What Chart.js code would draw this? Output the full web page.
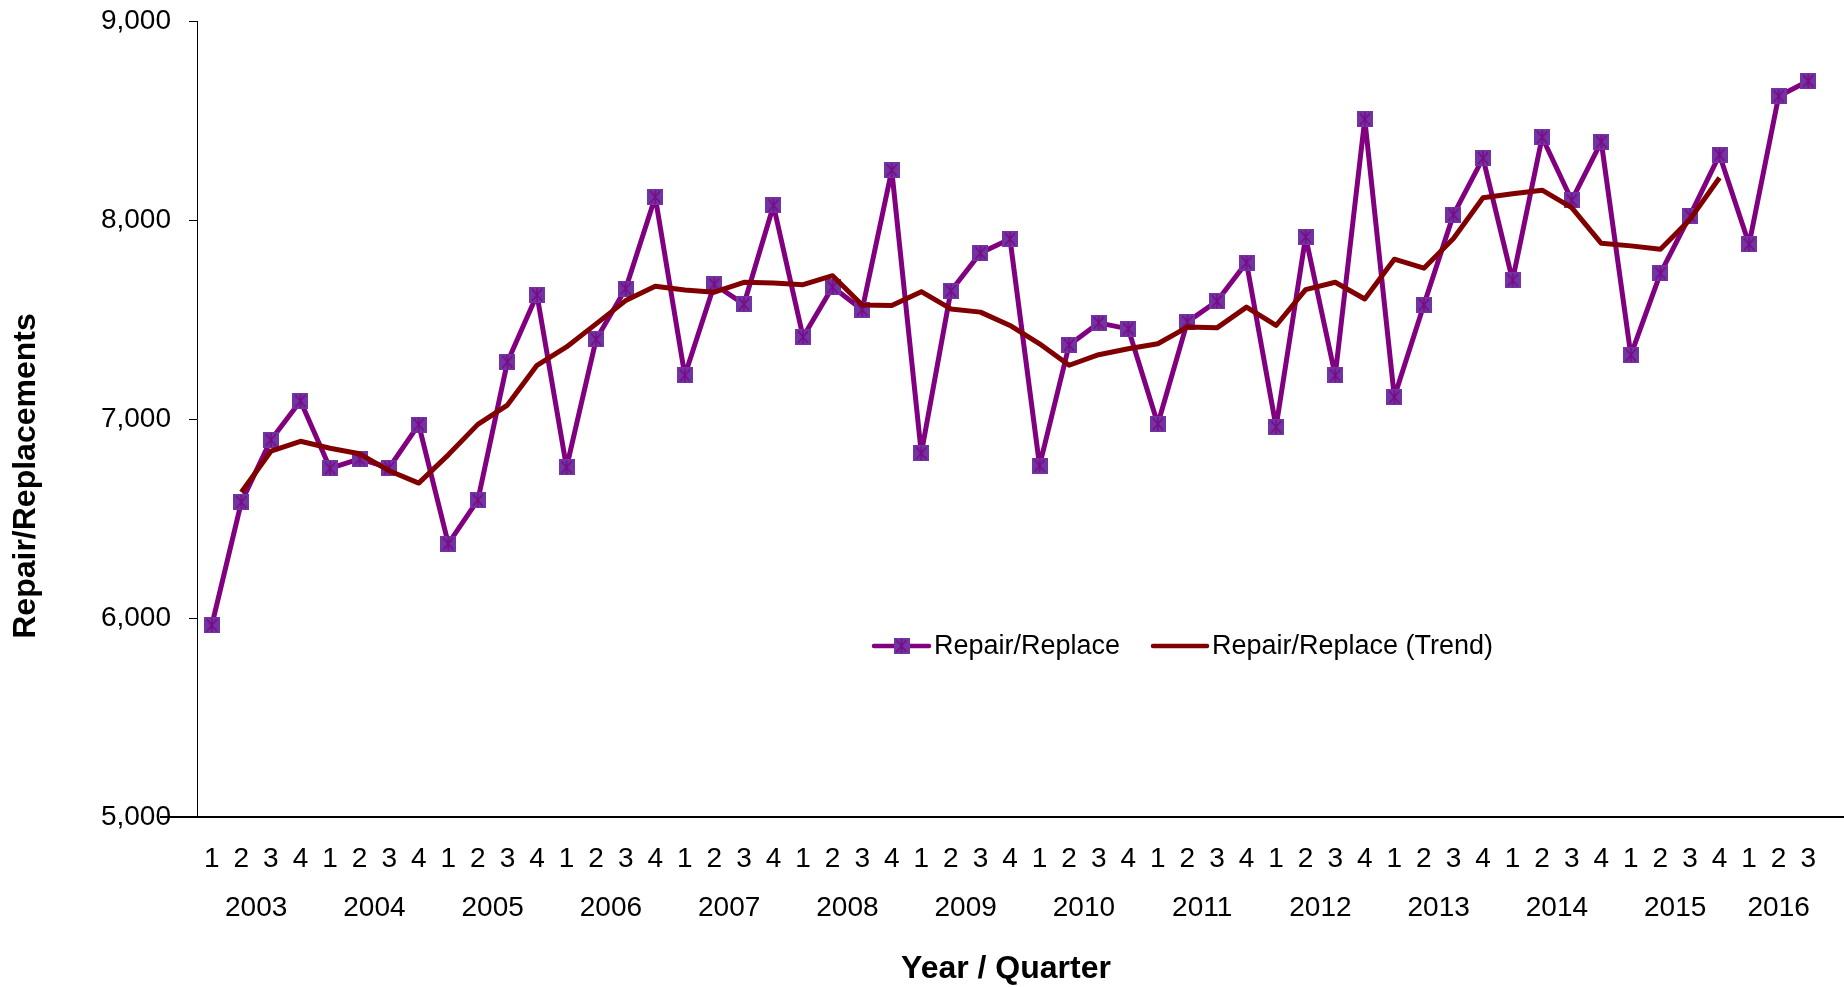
<!DOCTYPE html>
<html>
<head>
<meta charset="utf-8">
<script src="https://cdn.jsdelivr.net/npm/chart.js@4.4.1/dist/chart.umd.min.js"></script>
<style>
  html, body { margin: 0; padding: 0; background: #fff; }
  #wrap { width: 1844px; height: 987px; position: relative; }
</style>
</head>
<body>
<div id="wrap"><canvas id="chart"></canvas></div>
<script>
const years = ["2003", "2004", "2005", "2006", "2007", "2008", "2009", "2010", "2011", "2012", "2013", "2014", "2015", "2016"];
const quarterLabels = [
  "1", "2", "3", "4", "1", "2", "3", "4", "1", "2", "3", "4", "1", "2", "3", "4",
  "1", "2", "3", "4", "1", "2", "3", "4", "1", "2", "3", "4", "1", "2", "3", "4",
  "1", "2", "3", "4", "1", "2", "3", "4", "1", "2", "3", "4", "1", "2", "3", "4",
  "1", "2", "3", "4", "1", "2", "3"
];
const repairReplace = [
  5963, 6582, 6895, 7090,
  6752, 6800, 6755, 6972,
  6374, 6592, 7287, 7624,
  6757, 7400, 7655, 8116,
  7219, 7676, 7577, 8073,
  7412, 7663, 7549, 8250,
  6828, 7643, 7834, 7905,
  6766, 7372, 7483, 7453,
  6975, 7488, 7592, 7786,
  6960, 7915, 7219, 8506,
  7110, 7574, 8027, 8311,
  7697, 8416, 8099, 8393,
  7321, 7732, 8022, 8327,
  7878, 8622, 8698
];
const repairReplaceTrend = [
  null, 6632, 6838, 6888,
  6853, 6825, 6740, 6678,
  6820, 6973, 7070, 7270,
  7362, 7478, 7595, 7667,
  7648, 7637, 7687, 7683,
  7675, 7720, 7573, 7570,
  7640, 7553, 7537, 7470,
  7378, 7270, 7323, 7353,
  7378, 7462, 7458, 7562,
  7470, 7650, 7687, 7603,
  7803, 7758, 7907, 8112,
  8132, 8150, 8062, 7883,
  7870, 7853, 8003, 8212,
  null, null, null
];
const seriesNames = ["Repair/Replace", "Repair/Replace (Trend)"];
const xTitle = "Year / Quarter";
const yTitle = "Repair/Replacements";

const FONT = "Arial, 'Liberation Sans', sans-serif";

function makeMarker() {
  const c = document.createElement("canvas");
  c.width = 16;
  c.height = 16;
  const g = c.getContext("2d");
  g.fillStyle = "#7233a3";
  g.fillRect(0, 0, 16, 16);
  g.strokeStyle = "#7a0a84";
  g.lineWidth = 1.4;
  g.beginPath();
  g.moveTo(3, 2); g.lineTo(13, 14);
  g.moveTo(13, 2); g.lineTo(3, 14);
  g.moveTo(8, 1); g.lineTo(8, 15);
  g.stroke();
  return c;
}
const marker = makeMarker();

// year labels centred under their quarters
const yearLabelsPlugin = {
  id: "yearLabels",
  afterDraw(chart) {
    const x = chart.scales.x;
    const ctx = chart.ctx;
    ctx.save();
    ctx.font = "28px " + FONT;
    ctx.fillStyle = "#000";
    ctx.textAlign = "center";
    ctx.textBaseline = "middle";
    years.forEach((yr, k) => {
      const first = k * 4;
      const last = Math.min(first + 3, quarterLabels.length - 1);
      const cx = (x.getPixelForValue(first) + x.getPixelForValue(last)) / 2;
      ctx.fillText(yr, cx, x.top + 91);
    });
    ctx.restore();
  }
};

// axis line extensions and axis titles
const axisDecorPlugin = {
  id: "axisDecor",
  afterDraw(chart) {
    const ctx = chart.ctx;
    const area = chart.chartArea;
    ctx.save();
    ctx.strokeStyle = "#000";
    ctx.lineWidth = 2;
    ctx.beginPath();
    ctx.moveTo(160, area.bottom);
    ctx.lineTo(chart.width, area.bottom);
    ctx.stroke();

    ctx.fillStyle = "#000";
    ctx.font = "bold 32px " + FONT;
    ctx.textAlign = "center";
    ctx.textBaseline = "middle";
    ctx.fillText(xTitle, 1006, 969);
    ctx.translate(26, 476);
    ctx.rotate(-Math.PI / 2);
    ctx.fillText(yTitle, 0, 0);
    ctx.restore();
  }
};

// legend drawn inside the plot
const legendPlugin = {
  id: "innerLegend",
  afterDraw(chart) {
    const ctx = chart.ctx;
    const ds = chart.data.datasets;
    const y = 646;
    const items = [{x0: 874, x1: 929, tx: 934}, {x0: 1153, x1: 1207, tx: 1212}];
    ctx.save();
    ctx.font = "27px " + FONT;
    ctx.textAlign = "left";
    ctx.textBaseline = "middle";
    items.forEach((it, i) => {
      ctx.strokeStyle = ds[i].borderColor;
      ctx.lineWidth = 4.5;
      ctx.lineCap = "round";
      ctx.beginPath();
      ctx.moveTo(it.x0, y);
      ctx.lineTo(it.x1, y);
      ctx.stroke();
      if (i === 0) {
        ctx.drawImage(marker, (it.x0 + it.x1) / 2 - 8, y - 8);
      }
      ctx.fillStyle = "#000";
      ctx.fillText(ds[i].label, it.tx, y + 1);
    });
    ctx.restore();
  }
};

const ctx = document.getElementById("chart").getContext("2d");
new Chart(ctx, {
  type: "line",
  data: {
    labels: quarterLabels,
    datasets: [
      {
        label: seriesNames[0],
        data: repairReplace,
        borderColor: "#800080",
        backgroundColor: "#7233a3",
        borderWidth: 5,
        borderJoinStyle: "round",
        pointStyle: marker,
        pointRadius: 8,
        pointHoverRadius: 8,
        tension: 0,
        order: 2
      },
      {
        label: seriesNames[1],
        data: repairReplaceTrend,
        borderColor: "#800000",
        backgroundColor: "#800000",
        borderWidth: 5,
        borderJoinStyle: "round",
        pointRadius: 0,
        pointHoverRadius: 0,
        tension: 0,
        order: 1
      }
    ]
  },
  options: {
    responsive: true,
    maintainAspectRatio: false,
    animation: false,
    events: [],
    layout: {padding: {top: 21, right: 21, left: 0, bottom: 0}},
    plugins: {
      legend: {display: false},
      tooltip: {enabled: false}
    },
    scales: {
      x: {
        type: "category",
        offset: true,
        grid: {display: false, drawTicks: false},
        border: {display: true, color: "#000", width: 2},
        ticks: {
          color: "#000",
          font: {size: 28, family: FONT},
          padding: 25,
          maxRotation: 0,
          autoSkip: false
        },
        afterFit(s) {
          s.height = 170;
          s.paddingLeft = 0;
          s.paddingRight = 0;
        }
      },
      y: {
        min: 5000,
        max: 9000,
        grid: {drawOnChartArea: false, drawTicks: true, tickLength: 8, color: "#000"},
        border: {display: true, color: "#000", width: 1},
        ticks: {
          stepSize: 1000,
          color: "#000",
          font: {size: 28, family: FONT},
          padding: 18,
          callback: (v) => v.toLocaleString("en-US")
        },
        afterFit(s) {
          s.width = 197;
          s.paddingTop = 0;
          s.paddingBottom = 0;
        }
      }
    }
  },
  plugins: [yearLabelsPlugin, axisDecorPlugin, legendPlugin]
});
</script>
</body>
</html>
